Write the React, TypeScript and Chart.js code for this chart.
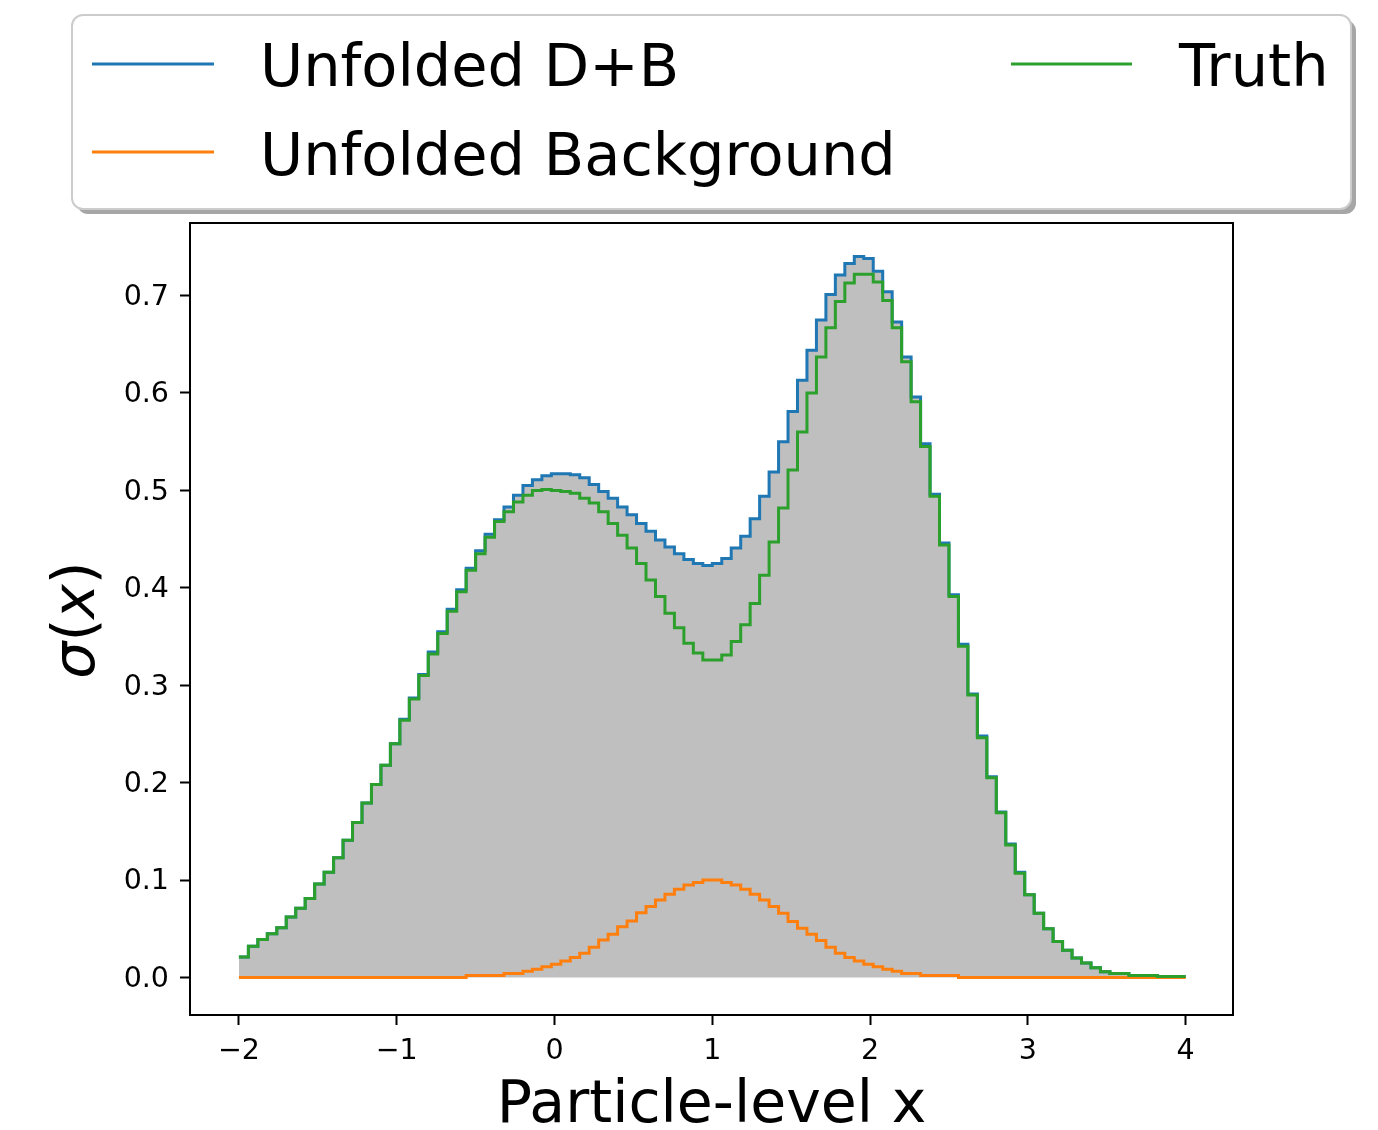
import React, { useEffect, useRef } from "react";
import { Chart, registerables } from "chart.js";

Chart.register(...registerables);

// ---- data ----
const binStart = -2;
const binWidth = 0.06;
const binCount = 100;

const truth = [
  0.021, 0.032, 0.039, 0.045, 0.051, 0.062, 0.071, 0.081, 0.096, 0.108,
  0.123, 0.141, 0.159, 0.179, 0.198, 0.218, 0.240, 0.264, 0.286, 0.310,
  0.332, 0.353, 0.376, 0.396, 0.418, 0.435, 0.452, 0.468, 0.478, 0.488,
  0.495, 0.500, 0.501, 0.500, 0.499, 0.497, 0.492, 0.487, 0.478, 0.466,
  0.454, 0.441, 0.425, 0.408, 0.391, 0.374, 0.359, 0.343, 0.333, 0.326,
  0.326, 0.331, 0.345, 0.362, 0.384, 0.413, 0.447, 0.482, 0.521, 0.560,
  0.600, 0.637, 0.667, 0.694, 0.713, 0.722, 0.722, 0.714, 0.695, 0.667,
  0.632, 0.591, 0.545, 0.494, 0.444, 0.391, 0.340, 0.290, 0.246, 0.205,
  0.169, 0.136, 0.107, 0.085, 0.066, 0.050, 0.037, 0.028, 0.020, 0.015,
  0.010, 0.006, 0.004, 0.004, 0.002, 0.002, 0.002, 0.001, 0.001, 0.001,
];

const unfoldedDB = [
  0.021, 0.032, 0.039, 0.045, 0.051, 0.062, 0.071, 0.081, 0.096, 0.108,
  0.123, 0.141, 0.159, 0.179, 0.198, 0.218, 0.240, 0.265, 0.287, 0.311,
  0.334, 0.355, 0.378, 0.398, 0.420, 0.438, 0.455, 0.470, 0.483, 0.495,
  0.505, 0.511, 0.515, 0.517, 0.517, 0.516, 0.513, 0.506, 0.499, 0.492,
  0.483, 0.475, 0.466, 0.458, 0.449, 0.442, 0.435, 0.429, 0.425, 0.423,
  0.425, 0.430, 0.441, 0.453, 0.471, 0.494, 0.519, 0.550, 0.581, 0.613,
  0.644, 0.675, 0.701, 0.721, 0.733, 0.740, 0.738, 0.725, 0.704, 0.673,
  0.637, 0.596, 0.548, 0.496, 0.446, 0.393, 0.342, 0.291, 0.248, 0.206,
  0.170, 0.137, 0.108, 0.085, 0.066, 0.050, 0.037, 0.028, 0.020, 0.015,
  0.010, 0.006, 0.004, 0.004, 0.002, 0.002, 0.002, 0.001, 0.001, 0.001,
];

const unfoldedBkg = [
  0.000, 0.000, 0.000, 0.000, 0.000, 0.000, 0.000, 0.000, 0.000, 0.000,
  0.000, 0.000, 0.000, 0.000, 0.000, 0.000, 0.000, 0.000, 0.000, 0.000,
  0.000, 0.000, 0.000, 0.000, 0.002, 0.002, 0.002, 0.002, 0.004, 0.004,
  0.0065, 0.0085, 0.011, 0.0135, 0.017, 0.0205, 0.025, 0.031, 0.0385, 0.0445,
  0.052, 0.058, 0.0665, 0.073, 0.0795, 0.0855, 0.0905, 0.095, 0.0975, 0.100,
  0.100, 0.0975, 0.095, 0.0905, 0.0855, 0.0795, 0.073, 0.066, 0.0575, 0.0505,
  0.0445, 0.038, 0.031, 0.025, 0.0205, 0.017, 0.0135, 0.011, 0.0085, 0.0065,
  0.004, 0.004, 0.002, 0.002, 0.002, 0.002, 0.000, 0.000, 0.000, 0.000,
  0.000, 0.000, 0.000, 0.000, 0.000, 0.000, 0.000, 0.000, 0.000, 0.000,
  0.000, 0.000, 0.000, 0.000, 0.000, 0.000, 0.000, 0.000, 0.000, 0.000,
];

const xTickValues = [-2, -1, 0, 1, 2, 3, 4];
const yTickValues = [0, 0.1, 0.2, 0.3, 0.4, 0.5, 0.6, 0.7];

const seriesLabels = ["Unfolded D+B", "Unfolded Background", "Truth"];
const xAxisLabel = "Particle-level x";

// ---- helpers ----
const edges = Array.from({ length: binCount + 1 }, (_, i) => binStart + binWidth * i);
const toSteps = (vals: number[]) =>
  edges.map((e, i) => ({ x: e, y: vals[Math.min(i, vals.length - 1)] }));

const BLUE = "#1f77b4";
const ORANGE = "#ff7f0e";
const GREEN = "#2ca02c";
const FONT = '"DejaVu Sans", "Liberation Sans", sans-serif';
const LEGEND_PX = 59;

const decorPlugin = {
  id: "decor",
  afterDraw(chart: any) {
    const ctx: CanvasRenderingContext2D = chart.ctx;
    const a = chart.chartArea;
    ctx.save();
    // frame
    ctx.strokeStyle = "#000";
    ctx.lineWidth = 2;
    ctx.strokeRect(a.left, a.top, a.right - a.left, a.bottom - a.top);

    // x label
    ctx.fillStyle = "#000";
    ctx.font = `58.5px ${FONT}`;
    ctx.textAlign = "center";
    ctx.textBaseline = "alphabetic";
    ctx.fillText(xAxisLabel, (a.left + a.right) / 2, 1122);

    // y label sigma(x)
    ctx.save();
    ctx.translate(94, 620);
    ctx.rotate(-Math.PI / 2);
    const parts = [
      { t: "σ", f: `italic 58.5px ${FONT}` },
      { t: "(", f: `58.5px ${FONT}` },
      { t: "x", f: `italic 58.5px ${FONT}` },
      { t: ")", f: `58.5px ${FONT}` },
    ];
    let total = 0;
    for (const p of parts) {
      ctx.font = p.f;
      total += ctx.measureText(p.t).width;
    }
    let px = -total / 2;
    ctx.textAlign = "left";
    for (const p of parts) {
      ctx.font = p.f;
      ctx.fillText(p.t, px, 0);
      px += ctx.measureText(p.t).width;
    }
    ctx.restore();

    // legend box
    const bx = 72, by = 15, bw = 1279, bh = 194, r = 11;
    const rr = (x: number, y: number, w: number, h: number) => {
      ctx.beginPath();
      ctx.moveTo(x + r, y);
      ctx.lineTo(x + w - r, y);
      ctx.arcTo(x + w, y, x + w, y + r, r);
      ctx.lineTo(x + w, y + h - r);
      ctx.arcTo(x + w, y + h, x + w - r, y + h, r);
      ctx.lineTo(x + r, y + h);
      ctx.arcTo(x, y + h, x, y + h - r, r);
      ctx.lineTo(x, y + r);
      ctx.arcTo(x, y, x + r, y, r);
      ctx.closePath();
    };
    ctx.fillStyle = "rgba(0,0,0,0.35)";
    rr(bx + 5, by + 5, bw, bh);
    ctx.fill();
    ctx.fillStyle = "#fff";
    rr(bx, by, bw, bh);
    ctx.fill();
    ctx.strokeStyle = "#cccccc";
    ctx.lineWidth = 2;
    ctx.stroke();

    const entries = [
      { c: BLUE, x1: 92, x2: 214, y: 64, tx: 260, ty: 86, label: seriesLabels[0] },
      { c: ORANGE, x1: 92, x2: 214, y: 152, tx: 260, ty: 175, label: seriesLabels[1] },
      { c: GREEN, x1: 1011, x2: 1132, y: 64, tx: 1179, ty: 86, label: seriesLabels[2] },
    ];
    for (const e of entries) {
      ctx.strokeStyle = e.c;
      ctx.lineWidth = 3;
      ctx.beginPath();
      ctx.moveTo(e.x1, e.y);
      ctx.lineTo(e.x2, e.y);
      ctx.stroke();
      ctx.fillStyle = "#000";
      ctx.font = `${LEGEND_PX}px ${FONT}`;
      ctx.textAlign = "left";
      ctx.textBaseline = "alphabetic";
      ctx.fillText(e.label, e.tx, e.ty);
    }
    ctx.restore();
  },
};

export default function App() {
  const ref = useRef<HTMLCanvasElement>(null);
  useEffect(() => {
    document.body.style.margin = "0";
    document.body.style.overflow = "hidden";
    const canvas = ref.current!;
    const tickFont = { family: FONT, size: 28.5 };
    const chart = new Chart(canvas, {
      type: "line",
      data: {
        datasets: [
          {
            label: seriesLabels[2],
            data: toSteps(truth),
            borderColor: GREEN,
            borderWidth: 3,
            pointRadius: 0,
            stepped: true,
            fill: false,
            order: 0,
          },
          {
            label: seriesLabels[1],
            data: toSteps(unfoldedBkg),
            borderColor: ORANGE,
            borderWidth: 3,
            pointRadius: 0,
            stepped: true,
            fill: false,
            order: 1,
          },
          {
            label: seriesLabels[0],
            data: toSteps(unfoldedDB),
            borderColor: BLUE,
            backgroundColor: "#bfbfbf",
            borderWidth: 3,
            pointRadius: 0,
            stepped: true,
            fill: "origin",
            order: 2,
          },
        ],
      },
      options: {
        animation: false,
        responsive: false,
        maintainAspectRatio: false,
        devicePixelRatio: 1,
        layout: { padding: { left: 0, top: 223, right: 145, bottom: 0 } },
        plugins: { legend: { display: false }, tooltip: { enabled: false } },
        scales: {
          x: {
            type: "linear",
            min: -2.31,
            max: 4.3,
            afterFit: (s: any) => {
              s.height = 115;
            },
            afterBuildTicks: (s: any) => {
              s.ticks = xTickValues.map((v) => ({ value: v }));
            },
            ticks: {
              font: tickFont,
              color: "#000",
              padding: 9,
              maxRotation: 0,
              autoSkip: false,
              callback: (v: any) => (Number(v) < 0 ? "\u2212" + Math.abs(Number(v)) : String(v)),
            },
            grid: {
              display: true,
              drawOnChartArea: false,
              drawTicks: true,
              tickLength: 10,
              tickWidth: 2,
              tickColor: "#000",
            },
            border: { display: true, color: "#000", width: 2 },
          },
          y: {
            type: "linear",
            min: -0.0385,
            max: 0.7745,
            afterFit: (s: any) => {
              s.width = 190;
            },
            afterBuildTicks: (s: any) => {
              s.ticks = yTickValues.map((v) => ({ value: v }));
            },
            ticks: {
              font: tickFont,
              color: "#000",
              padding: 11,
              labelOffset: 2,
              autoSkip: false,
              callback: (v: any) => Number(v).toFixed(1),
            },
            grid: {
              display: true,
              drawOnChartArea: false,
              drawTicks: true,
              tickLength: 10,
              tickWidth: 2,
              tickColor: "#000",
            },
            border: { display: true, color: "#000", width: 2 },
          },
        },
      },
      plugins: [decorPlugin],
    } as any);
    return () => chart.destroy();
  }, []);
  return (
    <div style={{ width: 1378, height: 1130, background: "#fff" }}>
      <canvas ref={ref} width={1378} height={1130} style={{ display: "block" }} />
    </div>
  );
}
